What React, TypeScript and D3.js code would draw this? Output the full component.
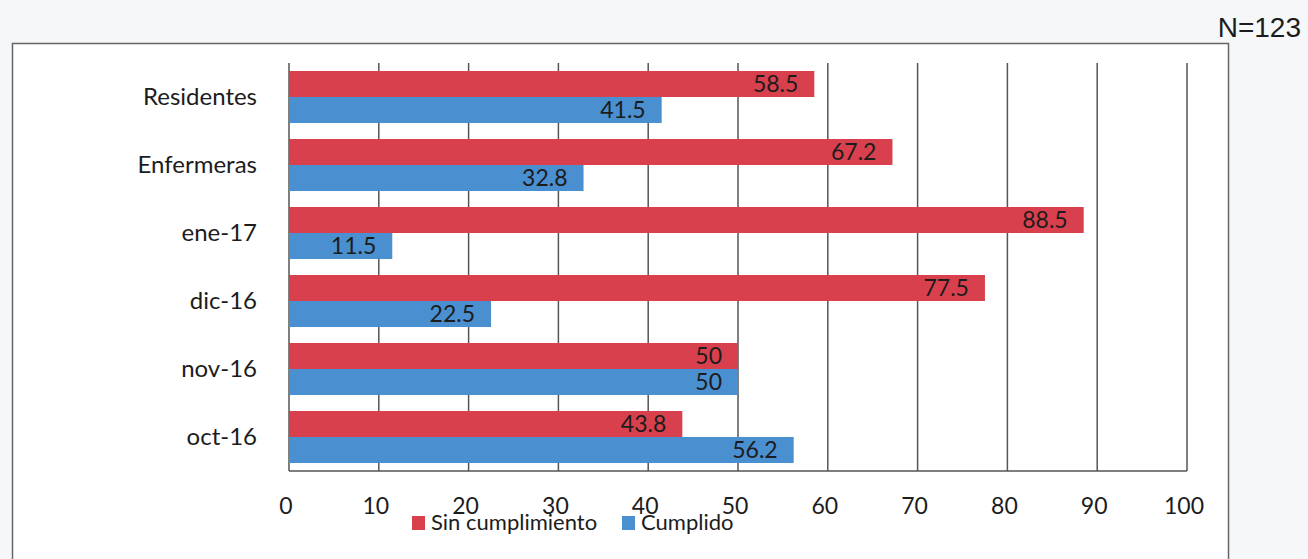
import * as d3 from 'd3'
import React, { useRef, useEffect } from 'react'

const categories = ['Residentes', 'Enfermeras', 'ene-17', 'dic-16', 'nov-16', 'oct-16']
const sinCumplimiento = [58.5, 67.2, 88.5, 77.5, 50, 43.8]
const cumplido = [41.5, 32.8, 11.5, 22.5, 50, 56.2]
const seriesNames = ['Sin cumplimiento', 'Cumplido']
const xTicks = [0, 10, 20, 30, 40, 50, 60, 70, 80, 90, 100]

const RED = '#d9404e'
const BLUE = '#4a8fcf'
const FONT = 'Lato, "Open Sans", sans-serif'

const App = () => {
  const ref = useRef(null)

  useEffect(() => {
    draw()
  }, [])

  const draw = () => {
    const totalWidth = 1308
    const totalHeight = 559
    const left = 289
    const right = 1187
    const top = 63
    const bottom = 471

    const svg = d3.select(ref.current)
    svg.selectAll('*').remove()

    svg.append('rect').attr('width', totalWidth).attr('height', totalHeight).attr('fill', '#f6f7f9')

    // outer frame
    svg
      .append('rect')
      .attr('x', 12.5)
      .attr('y', 43.5)
      .attr('width', 1216)
      .attr('height', 540)
      .attr('fill', '#ffffff')
      .attr('stroke', '#666')
      .attr('stroke-width', 1.5)

    svg
      .append('text')
      .attr('x', 1301)
      .attr('y', 37)
      .attr('text-anchor', 'end')
      .attr('font-family', '"Liberation Sans", Arial, sans-serif')
      .attr('font-size', 28)
      .attr('fill', '#1c1c1c')
      .text('N=123')

    const xScale = d3.scaleLinear().domain([0, 100]).range([left, right])
    const yScale = d3.scaleBand().domain(categories).range([top, bottom]).paddingInner(0.235).paddingOuter(0.1175)
    const sub = d3.scaleBand().domain(seriesNames).range([0, yScale.bandwidth()])

    const g = svg.append('g')

    // vertical gridlines
    g.selectAll('.grid')
      .data(xTicks)
      .enter()
      .append('line')
      .attr('x1', (d) => xScale(d))
      .attr('x2', (d) => xScale(d))
      .attr('y1', top)
      .attr('y2', bottom)
      .attr('stroke', '#555')
      .attr('stroke-width', 1.5)

    g.append('line')
      .attr('x1', left)
      .attr('x2', right)
      .attr('y1', bottom)
      .attr('y2', bottom)
      .attr('stroke', '#555')
      .attr('stroke-width', 1.5)

    const series = [sinCumplimiento, cumplido]
    const colors = [RED, BLUE]

    series.forEach((vals, si) => {
      const name = seriesNames[si]
      g.selectAll('.bar' + si)
        .data(vals)
        .enter()
        .append('rect')
        .attr('x', xScale(0))
        .attr('y', (d, i) => (yScale(categories[i]) as number) + (sub(name) as number))
        .attr('width', (d) => xScale(d) - xScale(0))
        .attr('height', sub.bandwidth())
        .attr('fill', colors[si])

      g.selectAll('.lab' + si)
        .data(vals)
        .enter()
        .append('text')
        .attr('x', (d) => xScale(d) - 16)
        .attr('y', (d, i) => (yScale(categories[i]) as number) + (sub(name) as number) + sub.bandwidth() / 2 + 8)
        .attr('text-anchor', 'end')
        .attr('font-family', FONT)
        .attr('font-size', 23)
        .attr('fill', '#1c1c1c')
        .text((d) => String(d))
    })

    // category labels
    g.selectAll('.cat')
      .data(categories)
      .enter()
      .append('text')
      .attr('x', 257)
      .attr('y', (d) => (yScale(d) as number) + yScale.bandwidth() / 2 + 8)
      .attr('text-anchor', 'end')
      .attr('font-family', FONT)
      .attr('font-size', 24)
      .attr('fill', '#1c1c1c')
      .text((d) => d)

    // x tick labels
    g.selectAll('.tick')
      .data(xTicks)
      .enter()
      .append('text')
      .attr('x', (d) => xScale(d) - 3)
      .attr('y', 514)
      .attr('text-anchor', 'middle')
      .attr('font-family', FONT)
      .attr('font-size', 23)
      .attr('fill', '#1c1c1c')
      .text((d) => String(d))

    // legend
    const legendX = [412, 622]
    seriesNames.forEach((name, i) => {
      g.append('rect')
        .attr('x', legendX[i])
        .attr('y', 516)
        .attr('width', 13)
        .attr('height', 14)
        .attr('fill', colors[i])
      g.append('text')
        .attr('x', legendX[i] + 19)
        .attr('y', 530)
        .attr('font-family', FONT)
        .attr('font-size', 22)
        .attr('fill', '#1c1c1c')
        .text(name)
    })
  }

  return (
    <div style={{ position: 'absolute', left: 0, top: 0 }}>
      <svg ref={ref} width={1308} height={559} style={{ display: 'block' }} />
    </div>
  )
}

export default App
